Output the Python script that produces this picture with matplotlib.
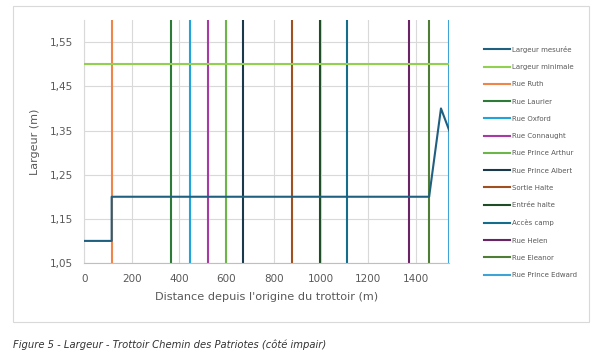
import matplotlib
matplotlib.use('Agg')
import matplotlib.pyplot as plt
from matplotlib.ticker import FuncFormatter, MultipleLocator
from matplotlib.patches import Rectangle

# Largeur mesurée le long du trottoir
distance = [0, 115, 115, 1457, 1507, 1542]
largeur = [1.10, 1.10, 1.20, 1.20, 1.40, 1.35]
largeur_min = 1.50

# Rues et accès (position en m)
rues = ['Rue Ruth', 'Rue Laurier', 'Rue Oxford', 'Rue Connaught', 'Rue Prince Arthur',
        'Rue Prince Albert', 'Sortie Halte', 'Entrée halte', 'Accès camp', 'Rue Helen',
        'Rue Eleanor', 'Rue Prince Edward']
positions = [115, 366, 446, 523, 598, 670, 876, 997, 1109, 1371, 1457, 1542]
couleurs = ['#f0854a', '#2e7a38', '#1fa5dc', '#a83aa3', '#6cb549', '#1a3a4c',
            '#a0501f', '#1f4d27', '#156d8c', '#6a2466', '#4f7d36', '#3ea4d6']

fig = plt.figure(figsize=(5.99, 3.53), dpi=100)
ax = fig.add_axes([0.141, 0.255, 0.609, 0.688])

ax.plot([0, 1542], [largeur_min, largeur_min], color='#92d050', lw=1.5, label='Largeur minimale', zorder=3)
for nom, x, c in zip(rues, positions, couleurs):
    ax.axvline(x, color=c, lw=1.5, label=nom, zorder=2)
ax.plot(distance, largeur, color='#1f5f80', lw=1.5, label='Largeur mesurée', zorder=4)

ax.set_xlim(0, 1542)
ax.set_ylim(1.05, 1.6)
ax.xaxis.set_major_locator(MultipleLocator(200))
ax.set_yticks([1.05, 1.15, 1.25, 1.35, 1.45, 1.55])
ax.yaxis.set_major_formatter(FuncFormatter(lambda v, p: f'{v:.2f}'.replace('.', ',')))
ax.grid(True, color='#d9d9d9', lw=0.8)
ax.set_axisbelow(True)
for s in ['top', 'right']:
    ax.spines[s].set_visible(False)
ax.spines['left'].set_color('#d9d9d9')
ax.spines['bottom'].set_color('#bfbfbf')
ax.tick_params(length=0, labelsize=7.5, colors='#595959', pad=8)
ax.set_xlabel("Distance depuis l'origine du trottoir (m)", fontsize=8.1, color='#595959', labelpad=6)
ax.set_ylabel('Largeur (m)', fontsize=8, color='#595959', labelpad=7)

h, l = ax.get_legend_handles_labels()
order = [len(h) - 1] + list(range(len(h) - 1))
leg = fig.legend([h[i] for i in order], [l[i] for i in order], loc='upper left',
                 bbox_to_anchor=(0.804, 0.878), frameon=False, fontsize=5,
                 handlelength=3.7, handletextpad=0.3, labelspacing=1.62, borderaxespad=0)
for t in leg.get_texts():
    t.set_color('#595959')

fig.patches.append(Rectangle((13 / 599, 1 - 322 / 353), 576 / 599, 316 / 353,
                             transform=fig.transFigure, fill=False, edgecolor='#d9d9d9', lw=0.8))
fig.text(13 / 599, 1 - 345 / 353, 'Figure 5 - Largeur - Trottoir Chemin des Patriotes (côté impair)',
         fontsize=7.2, style='italic', color='#333333', va='center')

fig.savefig('out.png', dpi=100)
